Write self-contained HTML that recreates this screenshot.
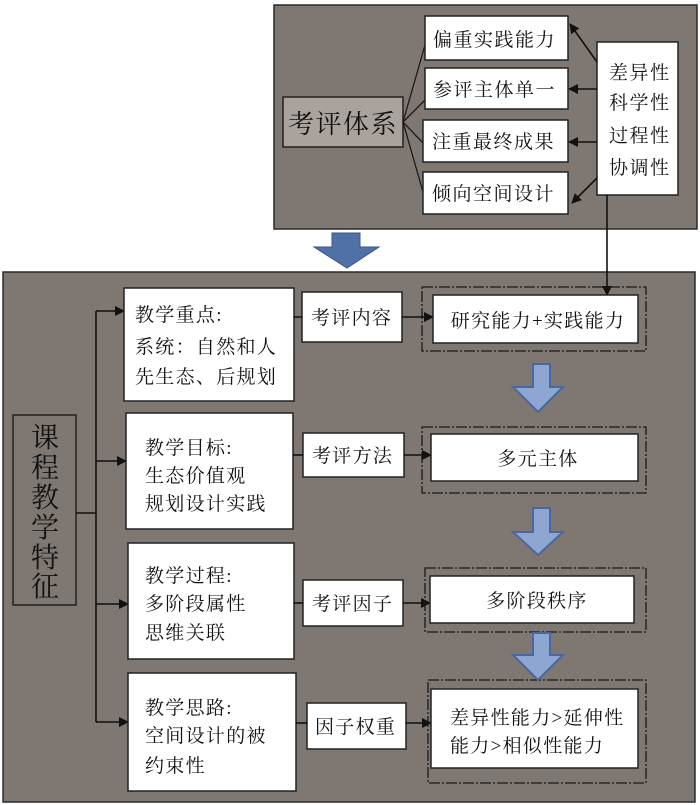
<!DOCTYPE html>
<html><head><meta charset="utf-8">
<style>
html,body{margin:0;padding:0;background:#fff;}
svg{display:block;}
text{font-family:"Liberation Serif","Noto Serif CJK SC",serif;fill:#111;}
</style></head>
<body>
<svg width="700" height="805" viewBox="0 0 700 805" xmlns="http://www.w3.org/2000/svg">
<defs>
<marker id="ah" markerWidth="10" markerHeight="10" refX="9" refY="5" orient="auto" markerUnits="userSpaceOnUse">
<path d="M0,0 L10,5 L0,10 z" fill="#111"/>
</marker>
</defs>

<!-- Top panel -->
<rect x="274" y="5" width="423" height="224" fill="#7f7772" stroke="#2a2a2a" stroke-width="1.5"/>
<rect x="283" y="97" width="120" height="50" fill="#aaa29d" stroke="#222" stroke-width="1.5"/>
<text x="288" y="133" font-size="26" letter-spacing="1.5">考评体系</text>

<g stroke="#1a1a1a" stroke-width="1.3" fill="none">
<line x1="403" y1="122" x2="425" y2="45"/>
<line x1="403" y1="122" x2="425" y2="100"/>
<line x1="403" y1="122" x2="423" y2="143"/>
<line x1="403" y1="122" x2="423" y2="192"/>
</g>

<g fill="#fff" stroke="#222" stroke-width="1.5">
<rect x="425" y="16" width="143" height="44"/>
<rect x="425" y="68" width="143" height="41"/>
<rect x="423" y="120" width="145" height="42"/>
<rect x="423" y="172" width="145" height="42"/>
<rect x="597" y="42" width="81" height="153"/>
</g>
<g font-size="19" letter-spacing="1.5">
<text x="433" y="46">偏重实践能力</text>
<text x="433" y="96">参评主体单一</text>
<text x="432" y="148">注重最终成果</text>
<text x="432" y="200">倾向空间设计</text>
<text x="609" y="79">差异性</text>
<text x="609" y="109">科学性</text>
<text x="609" y="142">过程性</text>
<text x="609" y="174">协调性</text>
</g>

<g stroke="#111" stroke-width="1.6" fill="none" marker-end="url(#ah)">
<line x1="597" y1="62" x2="570" y2="24"/>
<line x1="597" y1="89" x2="569" y2="89"/>
<line x1="597" y1="142" x2="569" y2="142"/>
<line x1="597" y1="178" x2="572" y2="203"/>
<line x1="607" y1="195" x2="607" y2="295"/>
</g>

<!-- top blue arrow -->
<polygon points="332,233 360,233 360,247 379,247 347,268 314,247 332,247" fill="#5070a8" stroke="#3b5588" stroke-width="1"/>

<!-- Bottom panel -->
<rect x="3" y="272" width="692" height="530" fill="#7f7772" stroke="#2a2a2a" stroke-width="1.5"/>
<!-- re-draw vertical line part over panel -->
<line x1="607" y1="271" x2="607" y2="295" stroke="#111" stroke-width="1.6" marker-end="url(#ah)"/>

<rect x="13" y="415" width="63" height="190" fill="#7f7772" stroke="#222" stroke-width="1.5"/>
<g font-size="28" text-anchor="middle">
<text x="45" y="447">课</text>
<text x="45" y="477">程</text>
<text x="45" y="507">教</text>
<text x="45" y="537">学</text>
<text x="45" y="567">特</text>
<text x="45" y="596">征</text>
</g>

<g stroke="#111" stroke-width="1.6" fill="none">
<line x1="76" y1="513" x2="96" y2="513"/>
<line x1="96" y1="311" x2="96" y2="722"/>
</g>
<g stroke="#111" stroke-width="1.6" fill="none" marker-end="url(#ah)">
<line x1="96" y1="311" x2="124" y2="311"/>
<line x1="96" y1="461" x2="126" y2="461"/>
<line x1="96" y1="604" x2="128" y2="604"/>
<line x1="96" y1="722" x2="128" y2="722"/>
</g>

<g fill="#fff" stroke="#222" stroke-width="1.5">
<rect x="124" y="288" width="170" height="113"/>
<rect x="126" y="413" width="167" height="116"/>
<rect x="128" y="543" width="166" height="116"/>
<rect x="128" y="673" width="168" height="118"/>
<rect x="302" y="292" width="100" height="50"/>
<rect x="303" y="433" width="101" height="44"/>
<rect x="303" y="580" width="100" height="46"/>
<rect x="307" y="703" width="99" height="46"/>
</g>

<g font-size="19" letter-spacing="1.3">
<text x="135" y="321">教学重点:</text>
<text x="135" y="353">系统：自然和人</text>
<text x="135" y="383">先生态、后规划</text>
<text x="145" y="454">教学目标:</text>
<text x="145" y="482">生态价值观</text>
<text x="145" y="510">规划设计实践</text>
<text x="145" y="582">教学过程:</text>
<text x="145" y="610">多阶段属性</text>
<text x="145" y="639">思维关联</text>
<text x="145" y="714">教学思路:</text>
<text x="145" y="742">空间设计的被</text>
<text x="145" y="772">约束性</text>
<text x="311" y="324">考评内容</text>
<text x="312" y="462">考评方法</text>
<text x="312" y="610">考评因子</text>
<text x="315" y="733">因子权重</text>
</g>

<g stroke="#111" stroke-width="1.6" fill="none">
<line x1="294" y1="317" x2="302" y2="317"/>
<line x1="293" y1="455" x2="303" y2="455"/>
<line x1="294" y1="603" x2="303" y2="603"/>
<line x1="296" y1="723" x2="307" y2="723"/>
</g>
<g stroke="#111" stroke-width="1.6" fill="none" marker-end="url(#ah)">
<line x1="402" y1="317" x2="433" y2="317"/>
<line x1="404" y1="455" x2="431" y2="455"/>
<line x1="403" y1="603" x2="430" y2="603"/>
<line x1="406" y1="723" x2="431" y2="723"/>
</g>

<!-- dashed outer boxes -->
<g fill="none" stroke="#1a1a1a" stroke-width="1.3" stroke-dasharray="11,2,2,2">
<rect x="422" y="287" width="224" height="64"/>
<rect x="422" y="427" width="224" height="66"/>
<rect x="425" y="568" width="221" height="64"/>
<rect x="428" y="680" width="218" height="103"/>
</g>
<g fill="#fff" stroke="#222" stroke-width="1.5">
<rect x="433" y="295" width="205" height="48"/>
<rect x="431" y="434" width="207" height="47"/>
<rect x="430" y="576" width="204" height="47"/>
<rect x="431" y="689" width="207" height="79"/>
</g>
<g font-size="19" letter-spacing="1.3">
<text x="538" y="327" text-anchor="middle">研究能力+实践能力</text>
<text x="538" y="465" text-anchor="middle">多元主体</text>
<text x="537" y="607" text-anchor="middle">多阶段秩序</text>
<text x="450" y="724">差异性能力&gt;延伸性</text>
<text x="450" y="752">能力&gt;相似性能力</text>
</g>

<!-- light blue arrows -->
<g fill="#8da6d2" stroke="#4a67a0" stroke-width="2" stroke-linejoin="miter">
<polygon points="533,364 550,364 550,387 563,387 538,412 513,387 533,387"/>
<polygon points="533,508 550,508 550,532 563,532 538,555 513,532 533,532"/>
<polygon points="533,633 550,633 550,655 563,655 538,680 513,655 533,655"/>
</g>
</svg>
</body></html>
